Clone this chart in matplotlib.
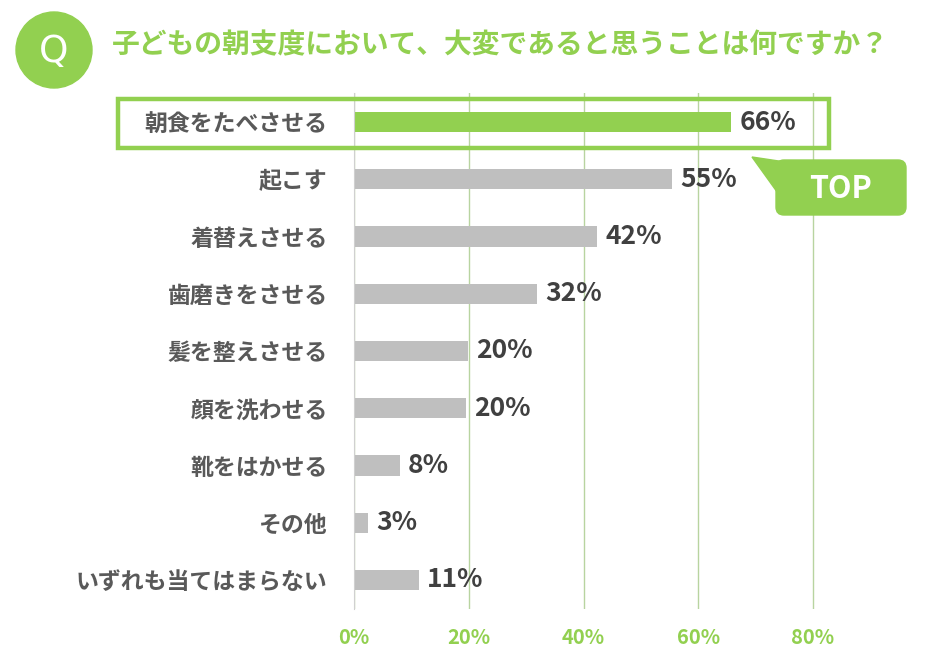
import matplotlib.pyplot as plt
from matplotlib.patches import Circle, FancyBboxPatch, Polygon, Rectangle

plt.rcParams["font.family"] = ["Noto Sans CJK JP", "DejaVu Sans"]

GREEN = "#92d050"
GRAY_BAR = "#bfbfbf"
LABEL_COLOR = "#595959"
VALUE_COLOR = "#404040"

# Survey answers, top to bottom
categories = [
    "朝食をたべさせる",
    "起こす",
    "着替えさせる",
    "歯磨きをさせる",
    "髪を整えさせる",
    "顔を洗わせる",
    "靴をはかせる",
    "その他",
    "いずれも当てはまらない",
]
values = [65.7, 55.4, 42.3, 31.9, 19.9, 19.5, 8.0, 2.4, 11.3]
value_labels = ["66%", "55%", "42%", "32%", "20%", "20%", "8%", "3%", "11%"]
x_ticks = [0, 20, 40, 60, 80]
x_tick_labels = ["0%", "20%", "40%", "60%", "80%"]
title = "子どもの朝支度において、大変であると思うことは何ですか？"

W, H = 930, 668
fig = plt.figure(figsize=(W / 100, H / 100), dpi=100)

# Main bar chart, placed in pixel terms (0% at x=354, 80% at x=813)
xmax = 80.3
left, top, bottom = 354, 93.4, 608.6
right = left + 459 * xmax / 80
ax = fig.add_axes([left / W, 1 - bottom / H, (right - left) / W, (bottom - top) / H])
colors = [GREEN] + [GRAY_BAR] * (len(values) - 1)
ypos = list(range(len(categories)))
ax.barh(ypos, values, height=0.35, color=colors, zorder=3)
ax.set_ylim(len(categories) - 0.5, -0.5)
ax.set_xlim(0, xmax)

for y, v, lab in zip(ypos, values, value_labels):
    ax.annotate(lab, (v, y), xytext=(6, 0), textcoords="offset points",
                ha="left", va="center", fontsize=19, fontweight="bold",
                color=VALUE_COLOR, annotation_clip=False)

ax.set_yticks(ypos)
ax.set_yticklabels(categories, fontsize=16.5, fontweight="bold", color=LABEL_COLOR)
ax.set_xticks(x_ticks)
ax.set_xticklabels(x_tick_labels, fontsize=14.5, fontweight="bold", color=GREEN)
ax.tick_params(axis="y", length=0, pad=19)
ax.tick_params(axis="x", length=0, pad=13)
ax.grid(axis="x", color="#b8d4a0", linewidth=1, zorder=0)
for s in ["top", "right", "bottom"]:
    ax.spines[s].set_visible(False)
ax.spines["left"].set_color("#d0d0d0")
ax.spines["left"].set_zorder(4)
ax.set_facecolor("none")

# Overlay for header and highlight decorations, in pixel coordinates
ov = fig.add_axes([0, 0, 1, 1], zorder=5)
ov.set_xlim(0, W)
ov.set_ylim(H, 0)
ov.axis("off")
ov.patch.set_alpha(0)

ov.add_patch(Circle((54, 50), 38, color=GREEN))
ov.text(54, 52, "Q", ha="center", va="center", fontsize=27, color="white",
        family=["DejaVu Sans"])
ov.text(112, 45, title, ha="left", va="center", fontsize=20,
        fontweight="bold", color=GREEN)

ov.add_patch(Rectangle((118, 99), 711, 49, fill=False, edgecolor=GREEN,
                       linewidth=3.2))

ov.add_patch(Polygon([(752, 157), (792, 163), (780, 196)], closed=True,
                     color=GREEN))
ov.add_patch(FancyBboxPatch((782, 166), 118, 43,
                            boxstyle="round,pad=6,rounding_size=8",
                            color=GREEN))
ov.text(841, 189, "TOP", ha="center", va="center", fontsize=22,
        fontweight="bold", color="white")

fig.savefig("out.png", dpi=100)
